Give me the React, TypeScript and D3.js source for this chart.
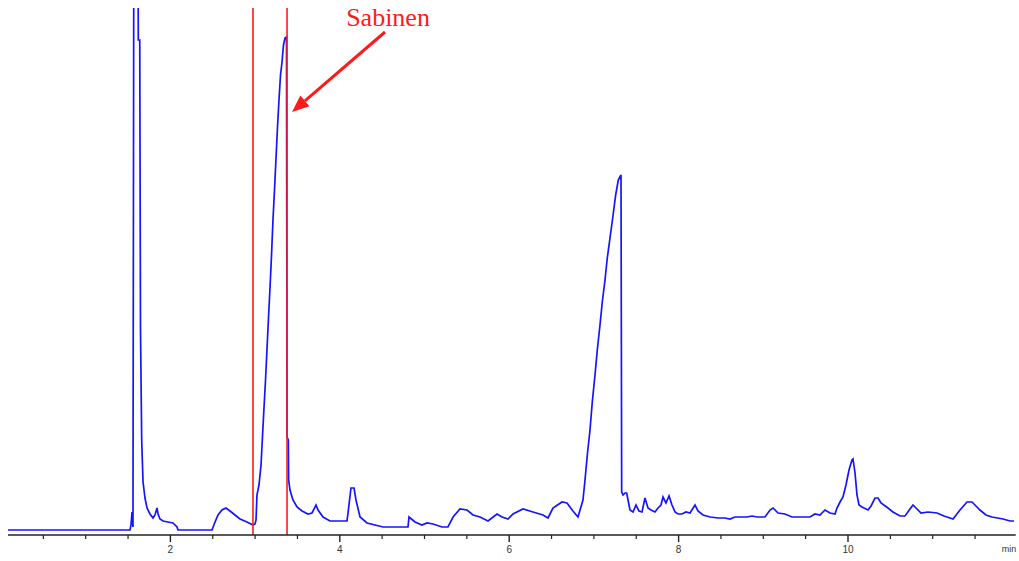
import React from "react";
import * as d3 from "d3";

// Retention time (min)
const times: number[] = [
  0.083, 1.523, 1.535, 1.547, 1.558, 1.570, 1.588, 1.606, 1.617, 1.621, 1.638, 1.647, 1.661, 1.677, 1.700,
  1.724, 1.759, 1.795, 1.818, 1.842, 1.854, 1.877, 1.913, 1.972, 2.031, 2.078, 2.090, 2.491, 2.527, 2.562,
  2.609, 2.656, 2.704, 2.763, 2.822, 2.904, 2.975, 2.999, 3.011, 3.022, 3.046, 3.070, 3.087, 3.105, 3.123,
  3.140, 3.158, 3.176, 3.194, 3.211, 3.229, 3.247, 3.264, 3.282, 3.300, 3.318, 3.335, 3.353, 3.371, 3.377,
  3.392, 3.396, 3.412, 3.447, 3.495, 3.554, 3.625, 3.672, 3.719, 3.743, 3.802, 3.884, 4.085, 4.097, 4.132,
  4.168, 4.191, 4.239, 4.321, 4.416, 4.510, 4.805, 4.817, 4.888, 4.970, 5.030, 5.100, 5.207, 5.277, 5.337,
  5.419, 5.502, 5.573, 5.655, 5.750, 5.856, 5.915, 5.986, 6.045, 6.163, 6.281, 6.399, 6.458, 6.517, 6.623,
  6.682, 6.753, 6.812, 6.871, 6.895, 6.922, 6.954, 6.981, 7.013, 7.040, 7.072, 7.099, 7.131, 7.158, 7.190,
  7.222, 7.257, 7.288, 7.320, 7.328, 7.344, 7.367, 7.387, 7.403, 7.426, 7.462, 7.497, 7.532, 7.568, 7.603,
  7.639, 7.674, 7.721, 7.757, 7.792, 7.816, 7.851, 7.887, 7.922, 7.958, 7.993, 8.040, 8.087, 8.135, 8.194,
  8.229, 8.288, 8.371, 8.465, 8.548, 8.607, 8.666, 8.725, 8.808, 8.867, 8.926, 9.020, 9.079, 9.115, 9.174,
  9.256, 9.339, 9.433, 9.551, 9.610, 9.669, 9.728, 9.788, 9.847, 9.870, 9.906, 9.941, 9.976, 10.012, 10.047,
  10.059, 10.083, 10.106, 10.130, 10.165, 10.236, 10.272, 10.319, 10.354, 10.390, 10.472, 10.531, 10.614, 10.673, 10.732,
  10.767, 10.803, 10.862, 10.945, 11.051, 11.133, 11.240, 11.322, 11.405, 11.464, 11.558, 11.629, 11.700, 11.830, 11.913,
  11.960,
];

// Detector signal (arbitrary units)
const signal: number[] = [
  0, 0, 5, 18, 3, 700, 760, 700, 600, 490, 490, 200, 90, 48, 32,
  22, 16, 12, 15, 22, 16, 11, 9, 8, 7, 3, 0, 0, 8, 15,
  20, 22, 19, 15, 11, 8, 5, 6, 10, 35, 45, 65, 93, 122, 150,
  180, 212, 242, 275, 310, 340, 372, 402, 430, 455, 468, 485, 492, 493, 93,
  90, 50, 40, 30, 23, 19, 16, 17, 25, 20, 13, 9, 9, 17, 42,
  42, 30, 13, 7, 5, 3, 3, 13, 8, 5, 7, 6, 3, 3, 13,
  21, 20, 15, 13, 9, 16, 13, 11, 16, 21, 18, 15, 12, 22, 28,
  27, 19, 13, 30, 50, 75, 100, 128, 155, 180, 205, 228, 250, 272, 292,
  312, 335, 350, 355, 38, 35, 37, 37, 30, 20, 18, 25, 19, 18, 32,
  22, 20, 18, 22, 25, 33, 27, 34, 25, 18, 16, 16, 18, 17, 25,
  19, 15, 13, 12, 12, 11, 13, 13, 13, 14, 13, 13, 20, 22, 17,
  16, 13, 13, 13, 16, 15, 20, 17, 16, 22, 28, 33, 45, 60, 70,
  71, 57, 35, 25, 23, 20, 24, 32, 32, 27, 22, 18, 14, 14, 21,
  25, 22, 17, 18, 17, 14, 11, 20, 28, 28, 20, 15, 13, 11, 9,
  9,
];

const majorTicks: number[] = [2, 4, 6, 8, 10];
const minorTicks: number[] = [0.5, 1, 1.5, 2.5, 3, 3.5, 4.5, 5, 5.5, 6.5, 7, 7.5, 8.5, 9, 9.5, 10.5, 11, 11.5];
const markerTimes: number[] = [2.975, 3.377];
const peakLabel = "Sabinen";
const axisUnit = "min";
const axisStart = 0.083;
const axisEnd = 11.98;

export default function App() {
  const W = 1019;
  const H = 561;
  const x = d3.scaleLinear().domain([0, 12]).range([1, 1017.4]);
  const y = d3.scaleLinear().domain([0, 522]).range([530, 8]);
  const axisY = 535;

  const pts = times.map((t, i) => [t, signal[i]] as [number, number]);
  const line = d3
    .line<[number, number]>()
    .x((d) => x(d[0]))
    .y((d) => y(d[1]));

  const mx = markerTimes.map((t) => x(t));
  // annotation arrow from label to second marker
  const tipX = mx[1] + 5;
  const tipY = y(418);
  const tailX = tipX + 93;
  const tailY = y(498);
  const ang = Math.atan2(tipY - tailY, tipX - tailX);
  const hl = 17;
  const hw = 7;
  const bx = tipX - hl * Math.cos(ang);
  const by = tipY - hl * Math.sin(ang);
  const px = -Math.sin(ang);
  const py = Math.cos(ang);
  const head = `M${tipX},${tipY}L${bx + hw * px},${by + hw * py}L${bx - hw * px},${by - hw * py}Z`;

  return (
    <svg
      width={W}
      height={H}
      style={{ position: "fixed", left: 0, top: 0, background: "#fff" }}
    >
      <defs>
        <clipPath id="plot">
          <rect x={0} y={y(522)} width={W} height={axisY - y(522)} />
        </clipPath>
      </defs>
      <rect x={0} y={0} width={W} height={H} fill="#fff" />
      <path
        d={line(pts) || ""}
        fill="none"
        stroke="#1414ff"
        strokeWidth={1.7}
        strokeLinejoin="miter"
        clipPath="url(#plot)"
      />
      {mx.map((v, i) => (
        <line key={i} x1={v} x2={v} y1={y(522)} y2={axisY} stroke="#ff1a1a" strokeWidth={1.6} />
      ))}
      {/* axis */}
      <line x1={x(axisStart)} x2={x(axisEnd)} y1={axisY} y2={axisY} stroke="#222" strokeWidth={1.6} />
      {minorTicks.map((t) => (
        <line key={"m" + t} x1={x(t)} x2={x(t)} y1={axisY} y2={axisY + 4} stroke="#222" strokeWidth={1.2} />
      ))}
      {majorTicks.map((t) => (
        <g key={"M" + t}>
          <line x1={x(t)} x2={x(t)} y1={axisY} y2={axisY + 7} stroke="#222" strokeWidth={1.4} />
          <text
            x={x(t)}
            y={axisY + 18}
            textAnchor="middle"
            fontFamily="'Liberation Sans', Arial, sans-serif"
            fontSize={10}
            fill="#333"
          >
            {t}
          </text>
        </g>
      ))}
      <text
        x={x(axisEnd) - 14}
        y={axisY + 17}
        fontFamily="'Liberation Sans', Arial, sans-serif"
        fontSize={9}
        fill="#333"
      >
        {axisUnit}
      </text>
      {/* annotation */}
      <line x1={tailX} y1={tailY} x2={bx} y2={by} stroke="#ff1a1a" strokeWidth={3} />
      <path d={head} fill="#ff1a1a" />
      <text
        x={tailX + 3}
        y={26}
        textAnchor="middle"
        fontFamily="'Liberation Serif', 'Times New Roman', serif"
        fontSize={26}
        fill="#ff1a1a"
      >
        {peakLabel}
      </text>
    </svg>
  );
}
